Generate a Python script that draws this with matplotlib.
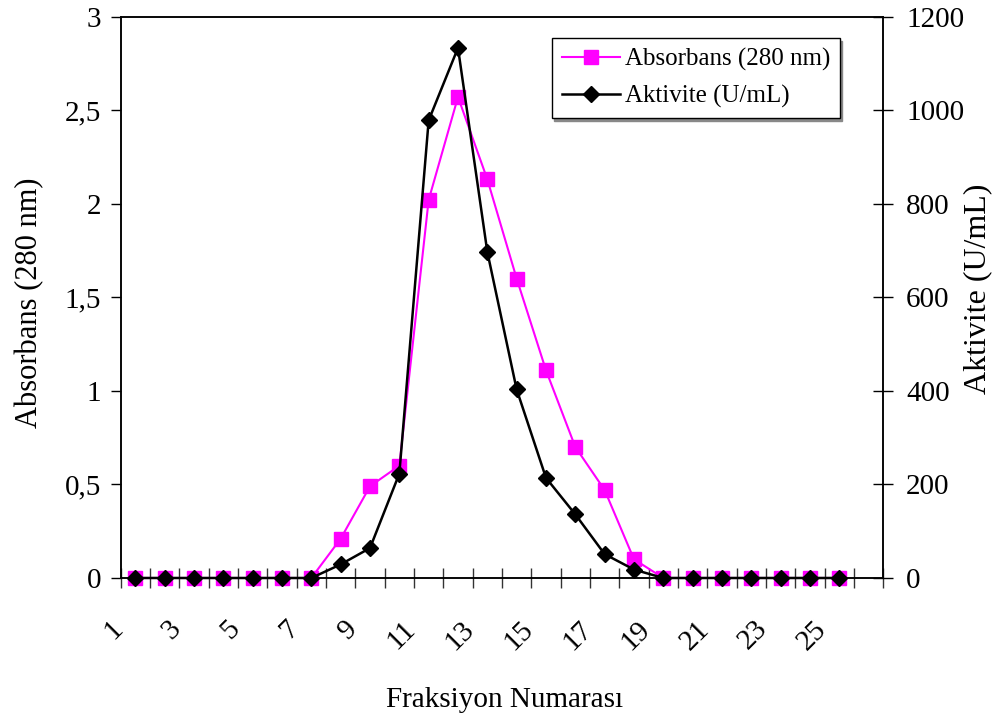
import matplotlib.pyplot as plt
import matplotlib as mpl
from matplotlib.transforms import ScaledTranslation

mpl.rcParams['font.family'] = 'Liberation Serif'

# Fraction numbers (category axis has one empty slot after the last fraction)
FRACTIONS = list(range(1, 26))
N_SLOTS = 26

ABSORBANS = [0, 0, 0, 0, 0, 0, 0,
             0.21, 0.49, 0.60, 2.02, 2.57, 2.13, 1.60, 1.11, 0.70, 0.47, 0.10,
             0, 0, 0, 0, 0, 0, 0]
AKTIVITE = [0, 0, 0, 0, 0, 0, 0,
            29, 64, 223, 978, 1133, 697, 403, 214, 136, 51, 18,
            0, 0, 0, 0, 0, 0, 0]

X_LABELS = [str(i) for i in range(1, 26, 2)]
ABS_TICKS = [0, 0.5, 1, 1.5, 2, 2.5, 3]
ABS_TICK_LABELS = ['0', '0,5', '1', '1,5', '2', '2,5', '3']
AKT_TICKS = [0, 200, 400, 600, 800, 1000, 1200]

MAGENTA = '#FF00FF'


def main():
    fig = plt.figure(figsize=(9.96, 7.18), dpi=100)
    ax = fig.add_axes([0.1212, 0.195, 0.7656, 0.782])

    ln1, = ax.plot(FRACTIONS, ABSORBANS, color=MAGENTA, lw=1.5,
                   marker='s', ms=10, mec=MAGENTA, mfc=MAGENTA,
                   label='Absorbans (280 nm)', clip_on=False, zorder=3)
    ax.set_xlim(0.5, N_SLOTS + 0.5)
    ax.set_ylim(0, 3)
    ax.set_yticks(ABS_TICKS)
    ax.set_yticklabels(ABS_TICK_LABELS)

    ax2 = ax.twinx()
    ln2, = ax2.plot(FRACTIONS, AKTIVITE, color='black', lw=1.8,
                    marker='D', ms=8, mec='black', mfc='black',
                    label='Aktivite (U/mL)', clip_on=False, zorder=3)
    ax2.set_ylim(0, 1200)
    ax2.set_yticks(AKT_TICKS)

    for a in (ax, ax2):
        for s in a.spines.values():
            s.set_linewidth(1.1)
            s.set_color('black')

    # category boundaries as crossing ticks, no labels
    bounds = [i + 0.5 for i in range(0, N_SLOTS + 1)]
    ax.set_xticks(bounds)
    ax.set_xticklabels([])
    ax.tick_params(axis='x', direction='inout', length=14, width=1, color='#333')
    ax.tick_params(axis='y', direction='out', length=7, width=1,
                   labelsize=21, pad=7)
    ax2.tick_params(axis='y', direction='inout', length=15, width=1,
                    labelsize=21, pad=9)

    # rotated category labels (every other fraction)
    off = ScaledTranslation(-17 / 100, -47 / 100, fig.dpi_scale_trans)
    for lbl in X_LABELS:
        ax.text(int(lbl), 0, lbl, transform=ax.get_xaxis_transform() + off,
                rotation=45, rotation_mode='anchor', ha='right', va='center',
                fontsize=21)

    ax.set_xlabel('Fraksiyon Numarası', fontsize=21)
    ax.xaxis.set_label_coords(0.503, -0.194)
    ax.set_ylabel('Absorbans (280 nm)', fontsize=22)
    ax.yaxis.set_label_coords(-0.10, 0.49)
    ax2.set_ylabel('Aktivite (U/mL)', fontsize=23)
    ax2.yaxis.set_label_coords(1.105, 0.515)

    leg = ax2.legend([ln1, ln2], [ln1.get_label(), ln2.get_label()],
                     loc='upper left', bbox_to_anchor=(0.5656, 0.9617),
                     borderaxespad=0, fontsize=18, numpoints=1,
                     handlelength=2.3, handletextpad=0.2, labelspacing=0.55,
                     fancybox=False,
                     shadow={'color': '#888', 'alpha': 1, 'ox': 1.5, 'oy': -2.5},
                     framealpha=1, edgecolor='black')
    leg.get_frame().set_linewidth(1.0)

    fig.savefig('out.png', dpi=100)


if __name__ == '__main__':
    main()
